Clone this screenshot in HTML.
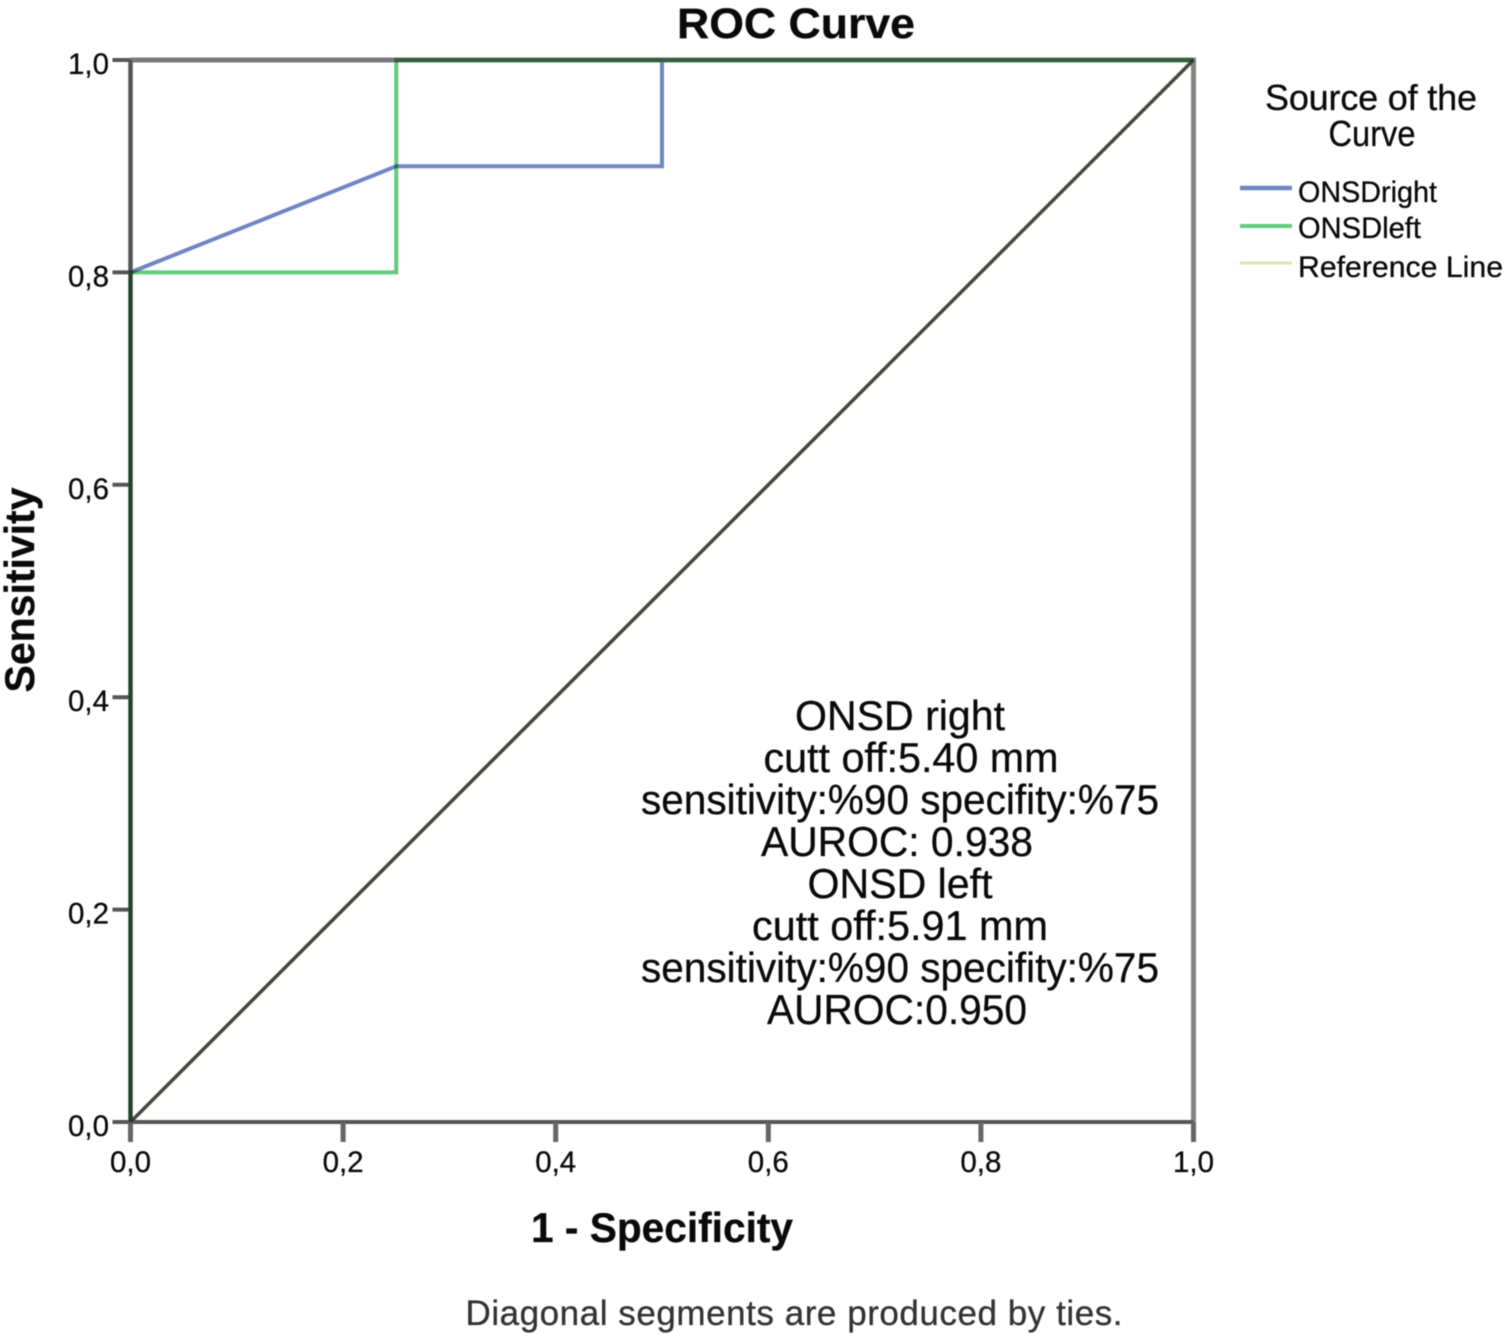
<!DOCTYPE html>
<html lang="en">
<head>
<meta charset="utf-8">
<title>ROC Curve</title>
<style>
html,body{margin:0;padding:0;background:#fff;}
body{width:1508px;height:1338px;overflow:hidden;}
svg{display:block;font-family:"Liberation Sans",Arial,sans-serif;}
text{fill:#0a0a0a;stroke:#0a0a0a;stroke-width:0.3px;}
</style>
</head>
<body>
<svg id="chart" width="1508" height="1338" viewBox="0 0 1508 1338" xmlns="http://www.w3.org/2000/svg">
  <defs>
    <filter id="soften" x="0" y="0" width="100%" height="100%" filterUnits="objectBoundingBox" color-interpolation-filters="sRGB">
      <feGaussianBlur stdDeviation="0.55"/>
    </filter>
  </defs>
  <rect x="0" y="0" width="1508" height="1338" fill="#ffffff"/>
  <g filter="url(#soften)">
    <rect x="0" y="0" width="1508" height="1338" fill="#ffffff"/>
    <text x="796" y="38" text-anchor="middle" font-size="43" font-weight="bold" textLength="238" lengthAdjust="spacingAndGlyphs">ROC Curve</text>
    <g id="frame-layer" style="isolation:isolate"></g>
    <text transform="translate(34,590) rotate(-90)" text-anchor="middle" font-size="42" font-weight="bold" textLength="205" lengthAdjust="spacingAndGlyphs">Sensitivity</text>
    <text x="662" y="1242" text-anchor="middle" font-size="42" font-weight="bold" textLength="262" lengthAdjust="spacingAndGlyphs">1 - Specificity</text>
    <text x="794" y="1325" text-anchor="middle" font-size="35" style="fill:#333;stroke:#333" textLength="657" lengthAdjust="spacing">Diagonal segments are produced by ties.</text>

    <g>
      <text x="1371" y="110" text-anchor="middle" font-size="36" textLength="212" lengthAdjust="spacing">Source of the</text>
      <text x="1372" y="146" text-anchor="middle" font-size="36" textLength="87" lengthAdjust="spacingAndGlyphs">Curve</text>
      <line x1="1240" y1="188" x2="1292" y2="188" stroke="#6f86c6" stroke-width="4.5"/>
      <text x="1298" y="202" font-size="30" textLength="139" lengthAdjust="spacingAndGlyphs">ONSDright</text>
      <line x1="1240" y1="226" x2="1292" y2="226" stroke="#62cc7c" stroke-width="4"/>
      <text x="1298" y="238" font-size="30" textLength="123" lengthAdjust="spacingAndGlyphs">ONSDleft</text>
      <line x1="1240" y1="263" x2="1292" y2="263" stroke="#e8e2b0" stroke-width="3"/>
      <text x="1298" y="277" font-size="30" textLength="205" lengthAdjust="spacingAndGlyphs">Reference Line</text>
    </g>

    <g font-size="42">
      <text x="900" y="730" text-anchor="middle" textLength="210" lengthAdjust="spacingAndGlyphs">ONSD right</text>
      <text x="911" y="772" text-anchor="middle" textLength="295" lengthAdjust="spacingAndGlyphs">cutt off:5.40 mm</text>
      <text x="900" y="814" text-anchor="middle" textLength="518" lengthAdjust="spacingAndGlyphs">sensitivity:%90 specifity:%75</text>
      <text x="897" y="856" text-anchor="middle" textLength="272" lengthAdjust="spacingAndGlyphs">AUROC: 0.938</text>
      <text x="900" y="898" text-anchor="middle" textLength="185" lengthAdjust="spacingAndGlyphs">ONSD left</text>
      <text x="900" y="940" text-anchor="middle" textLength="296" lengthAdjust="spacingAndGlyphs">cutt off:5.91 mm</text>
      <text x="900" y="982" text-anchor="middle" textLength="518" lengthAdjust="spacingAndGlyphs">sensitivity:%90 specifity:%75</text>
      <text x="897" y="1024" text-anchor="middle" textLength="260" lengthAdjust="spacingAndGlyphs">AUROC:0.950</text>
    </g>
  </g>
</svg>
<script>
const tickValues = [0, 0.2, 0.4, 0.6, 0.8, 1];
const tickLabels = ['0,0', '0,2', '0,4', '0,6', '0,8', '1,0'];
const onsdRightX = [0, 0, 0.25, 0.5, 0.5, 1];
const onsdRightY = [0, 0.8, 0.9, 0.9, 1, 1];
const onsdLeftX = [0, 0, 0.25, 0.25, 1];
const onsdLeftY = [0, 0.8, 0.8, 1, 1];
const referenceX = [0, 1];
const referenceY = [0, 1];

const NS = 'http://www.w3.org/2000/svg';
const plotLeft = 130.5, plotRight = 1193.5, plotTop = 60, plotBottom = 1122;
function xScale(v) { return plotLeft + v * (plotRight - plotLeft); }
function yScale(v) { return plotBottom - v * (plotBottom - plotTop); }
function pointsFrom(xs, ys) {
  return xs.map(function (x, i) { return xScale(x) + ',' + yScale(ys[i]); }).join(' ');
}
const layer = document.getElementById('frame-layer');

const rightLine = document.createElementNS(NS, 'polyline');


rightLine.setAttribute('points', pointsFrom(onsdRightX, onsdRightY));
rightLine.setAttribute('fill', 'none');
rightLine.setAttribute('stroke', '#6f86c6');
rightLine.setAttribute('stroke-width', '4');
layer.appendChild(rightLine);

const topEdge = document.createElementNS(NS, 'line');


topEdge.setAttribute('x1', xScale(0));
topEdge.setAttribute('y1', yScale(1));
topEdge.setAttribute('x2', xScale(1));
topEdge.setAttribute('y2', yScale(1));
topEdge.setAttribute('stroke', '#7a7a7a');
topEdge.setAttribute('stroke-width', '5');
layer.appendChild(topEdge);

const rightEdge = document.createElementNS(NS, 'line');


rightEdge.setAttribute('x1', xScale(1));
rightEdge.setAttribute('y1', yScale(1) - 2.5);
rightEdge.setAttribute('x2', xScale(1));
rightEdge.setAttribute('y2', yScale(0));
rightEdge.setAttribute('stroke', '#858585');
rightEdge.setAttribute('stroke-width', '5');
layer.appendChild(rightEdge);

const leftEdge = document.createElementNS(NS, 'line');


leftEdge.setAttribute('x1', xScale(0));
leftEdge.setAttribute('y1', yScale(1));
leftEdge.setAttribute('x2', xScale(0));
leftEdge.setAttribute('y2', yScale(0));
leftEdge.setAttribute('stroke', '#555555');
leftEdge.setAttribute('stroke-width', '4.5');
layer.appendChild(leftEdge);

const bottomEdge = document.createElementNS(NS, 'line');


bottomEdge.setAttribute('x1', xScale(0));
bottomEdge.setAttribute('y1', yScale(0));
bottomEdge.setAttribute('x2', xScale(1));
bottomEdge.setAttribute('y2', yScale(0));
bottomEdge.setAttribute('stroke', '#555555');
bottomEdge.setAttribute('stroke-width', '4');
layer.appendChild(bottomEdge);

tickValues.forEach(function (v, i) {
  const yTick = document.createElementNS(NS, 'line');
  
  
  yTick.setAttribute('x1', plotLeft - 18);
  yTick.setAttribute('y1', yScale(v));
  yTick.setAttribute('x2', plotLeft);
  yTick.setAttribute('y2', yScale(v));
  yTick.setAttribute('stroke', '#555555');
  yTick.setAttribute('stroke-width', '4');
  layer.appendChild(yTick);

  const xTick = document.createElementNS(NS, 'line');
  
  
  xTick.setAttribute('x1', xScale(v));
  xTick.setAttribute('y1', plotBottom);
  xTick.setAttribute('x2', xScale(v));
  xTick.setAttribute('y2', plotBottom + 20);
  xTick.setAttribute('stroke', '#666666');
  xTick.setAttribute('stroke-width', '5');
  layer.appendChild(xTick);

  const yLabel = document.createElementNS(NS, 'text');
  
  
  yLabel.setAttribute('x', 109);
  yLabel.setAttribute('y', yScale(v) + 14);
  yLabel.setAttribute('text-anchor', 'end');
  yLabel.setAttribute('font-size', '30');
  yLabel.setAttribute('textLength', '41');
  yLabel.setAttribute('lengthAdjust', 'spacingAndGlyphs');
  yLabel.textContent = tickLabels[i];
  layer.appendChild(yLabel);

  const xLabel = document.createElementNS(NS, 'text');
  
  
  xLabel.setAttribute('x', xScale(v));
  xLabel.setAttribute('y', plotBottom + 50);
  xLabel.setAttribute('text-anchor', 'middle');
  xLabel.setAttribute('font-size', '30');
  xLabel.setAttribute('textLength', '41');
  xLabel.setAttribute('lengthAdjust', 'spacingAndGlyphs');
  xLabel.textContent = tickLabels[i];
  layer.appendChild(xLabel);
});

const referenceLine = document.createElementNS(NS, 'polyline');


referenceLine.setAttribute('points', pointsFrom(referenceX, referenceY));
referenceLine.setAttribute('fill', 'none');
referenceLine.setAttribute('stroke', '#45453a');
referenceLine.setAttribute('stroke-width', '3.5');
layer.appendChild(referenceLine);

const leftLine = document.createElementNS(NS, 'polyline');


leftLine.setAttribute('points', pointsFrom(onsdLeftX, onsdLeftY));
leftLine.setAttribute('fill', 'none');
leftLine.setAttribute('stroke', '#62cc7c');
leftLine.setAttribute('stroke-width', '4');
leftLine.style.mixBlendMode = 'multiply';
layer.appendChild(leftLine);
</script>
</body>
</html>
